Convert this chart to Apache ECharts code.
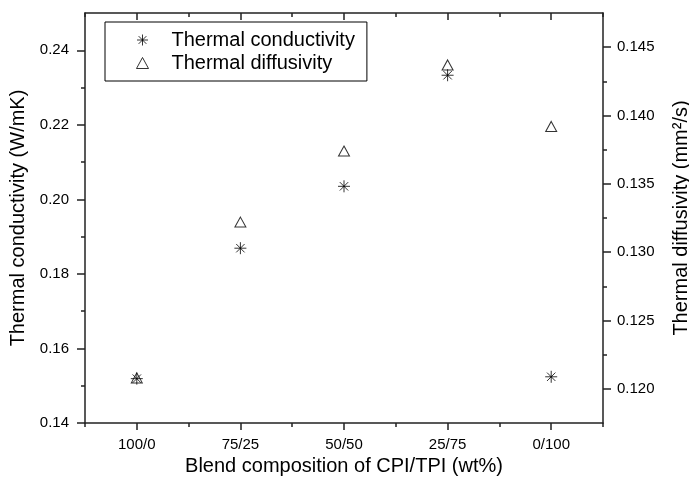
<!DOCTYPE html>
<html>
<head>
<meta charset="utf-8">
<script src="https://cdn.jsdelivr.net/npm/echarts@6/dist/echarts.min.js"></script>
<style>
  html, body { margin: 0; padding: 0; background: #fff; }
  #chart { width: 689px; height: 483px; }
</style>
</head>
<body>
<div id="chart"></div>
<script>
const categories = ["100/0", "75/25", "50/50", "25/75", "0/100"];
const conductivity = [0.1519, 0.1869, 0.2035, 0.2333, 0.1524];
const diffusivity = [0.1208, 0.1322, 0.1374, 0.1437, 0.1392];

const leftTicks = [0.14, 0.16, 0.18, 0.2, 0.22, 0.24];
const leftMinorTicks = [0.15, 0.17, 0.19, 0.21, 0.23];
const rightTicks = [0.12, 0.125, 0.13, 0.135, 0.14, 0.145];
const rightMinorTicks = [0.1225, 0.1275, 0.1325, 0.1375, 0.1425];

const FONT = "Liberation Sans, Arial, sans-serif";
const INK = "#000";
const LINE = "#222";

// asterisk marker: vertical, horizontal and both diagonals
const asterisk = "path://M6 0L6 12M0 6L12 6M1.8 1.8L10.2 10.2M10.2 1.8L1.8 10.2";

const chart = echarts.init(document.getElementById("chart"));

const lineStyle = { color: LINE, width: 1.5 };

const xMain = (position) => ({
  type: "category",
  data: categories,
  position: position,
  boundaryGap: true,
  axisLine: { show: true, lineStyle: lineStyle },
  axisTick: {
    show: true,
    alignWithLabel: true,
    inside: position === "top",
    length: 7,
    lineStyle: lineStyle,
  },
  axisLabel: {
    show: position === "bottom",
    margin: 14,
    color: INK,
    fontSize: 15,
    fontFamily: FONT,
  },
  splitLine: { show: false },
});

const xMinor = (position) => ({
  type: "category",
  data: categories,
  position: position,
  boundaryGap: true,
  axisLine: { show: false },
  axisTick: { show: true, inside: position === "top", length: 4, lineStyle: lineStyle },
  axisLabel: { show: false },
  splitLine: { show: false },
});

const yMinor = (position, min, max, ticks) => ({
  type: "value",
  position: position,
  min: min,
  max: max,
  axisLine: { show: false },
  axisTick: { show: true, length: 4, customValues: ticks, lineStyle: lineStyle },
  axisLabel: { show: false },
  splitLine: { show: false },
});

const option = {
  backgroundColor: "#fff",
  animation: false,
  grid: { left: 85, right: 86, top: 13, bottom: 60, outerBoundsMode: "none" },
  legend: {
    orient: "vertical",
    left: 105,
    top: 22,
    padding: [8, 12, 8, 31],
    itemWidth: 12,
    itemHeight: 11,
    itemGap: 3,
    borderColor: "#000",
    borderWidth: 1,
    itemStyle: { borderWidth: 1 },
    textStyle: {
      color: INK,
      fontSize: 20,
      lineHeight: 20,
      fontFamily: FONT,
      padding: [0, 0, 0, 18],
    },
    data: ["Thermal conductivity", "Thermal diffusivity"],
  },
  xAxis: [
    Object.assign(xMain("bottom"), {
      name: "Blend composition of CPI/TPI (wt%)",
      nameLocation: "middle",
      nameGap: 30,
      nameTextStyle: { color: INK, fontSize: 20, fontFamily: FONT },
    }),
    xMinor("bottom"),
    xMain("top"),
    xMinor("top"),
  ],
  yAxis: [
    {
      type: "value",
      position: "left",
      min: 0.14,
      max: 0.25,
      name: "Thermal conductivity (W/mK)",
      nameLocation: "middle",
      nameGap: 52,
      nameTextStyle: { color: INK, fontSize: 20, fontFamily: FONT },
      axisLine: { show: true, lineStyle: lineStyle },
      axisTick: { show: true, length: 8, customValues: leftTicks, lineStyle: lineStyle },
      axisLabel: {
        customValues: leftTicks,
        margin: 16,
        color: INK,
        fontSize: 15,
        fontFamily: FONT,
        formatter: (v) => v.toFixed(2),
      },
      splitLine: { show: false },
    },
    {
      type: "value",
      position: "right",
      min: 0.1175,
      max: 0.1475,
      name: "Thermal diffusivity (mm²/s)",
      nameLocation: "middle",
      nameGap: 68,
      nameTextStyle: { color: INK, fontSize: 20, fontFamily: FONT },
      axisLine: { show: true, lineStyle: lineStyle },
      axisTick: { show: true, length: 8, customValues: rightTicks, lineStyle: lineStyle },
      axisLabel: {
        customValues: rightTicks,
        margin: 14,
        color: INK,
        fontSize: 15,
        fontFamily: FONT,
        formatter: (v) => v.toFixed(3),
      },
      splitLine: { show: false },
    },
    yMinor("left", 0.14, 0.25, leftMinorTicks),
    yMinor("right", 0.1175, 0.1475, rightMinorTicks),
  ],
  series: [
    {
      name: "Thermal conductivity",
      type: "scatter",
      xAxisIndex: 0,
      yAxisIndex: 0,
      symbol: asterisk,
      symbolSize: 12,
      itemStyle: { color: "transparent", borderColor: "#000", borderWidth: 1 },
      data: conductivity,
    },
    {
      name: "Thermal diffusivity",
      type: "scatter",
      xAxisIndex: 0,
      yAxisIndex: 1,
      symbol: "triangle",
      symbolSize: [11, 10],
      itemStyle: { color: "transparent", borderColor: "#000", borderWidth: 1 },
      data: diffusivity,
    },
  ],
};

chart.setOption(option);
</script>
</body>
</html>
